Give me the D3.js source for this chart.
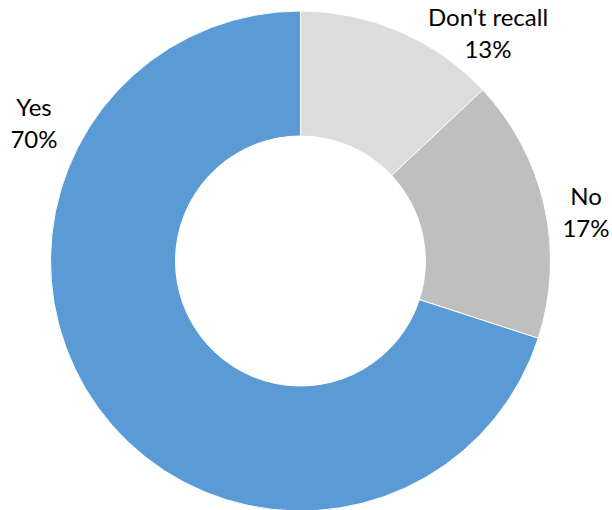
<!DOCTYPE html>
<html><head><meta charset="utf-8">
<script src="https://cdn.jsdelivr.net/npm/d3@7"></script>
<style>html,body{margin:0;padding:0;background:#fff}svg{display:block}</style>
</head><body>
<svg id="c" width="612" height="510"></svg>
<script>
const categories = ["Don't recall", "No", "Yes"];
const values = [13, 17, 70];
const colors = ["#dcdcdc", "#bfbfbf", "#5b9bd5"];
// label anchor points (centre of two-line label), layout only
const labelPos = [[488, 42], [586, 221], [34, 132]];

const W = 612, H = 510, cx = 300.5, cy = 261, R = 250, r0 = 125;
const svg = d3.select("#c");
const g = svg.append("g").attr("transform", `translate(${cx},${cy})`);
const pie = d3.pie().sort(null).value(d => d)(values);
const arc = d3.arc().innerRadius(r0).outerRadius(R);
g.selectAll("path").data(pie).enter().append("path")
  .attr("d", arc).attr("fill", (d, i) => colors[i])
  .attr("stroke", "#fff").attr("stroke-width", 1);

const total = d3.sum(values);
const lab = svg.append("g").attr("font-family", "Lato, 'Open Sans', sans-serif")
  .attr("font-size", 24).attr("fill", "#000").attr("text-anchor", "middle");
categories.forEach((c, i) => {
  const [x, y] = labelPos[i];
  lab.append("text").attr("x", x).attr("y", y - 16).text(c);
  lab.append("text").attr("x", x).attr("y", y + 16).text(d3.format(".0%")(values[i] / total));
});
</script>
</body></html>
